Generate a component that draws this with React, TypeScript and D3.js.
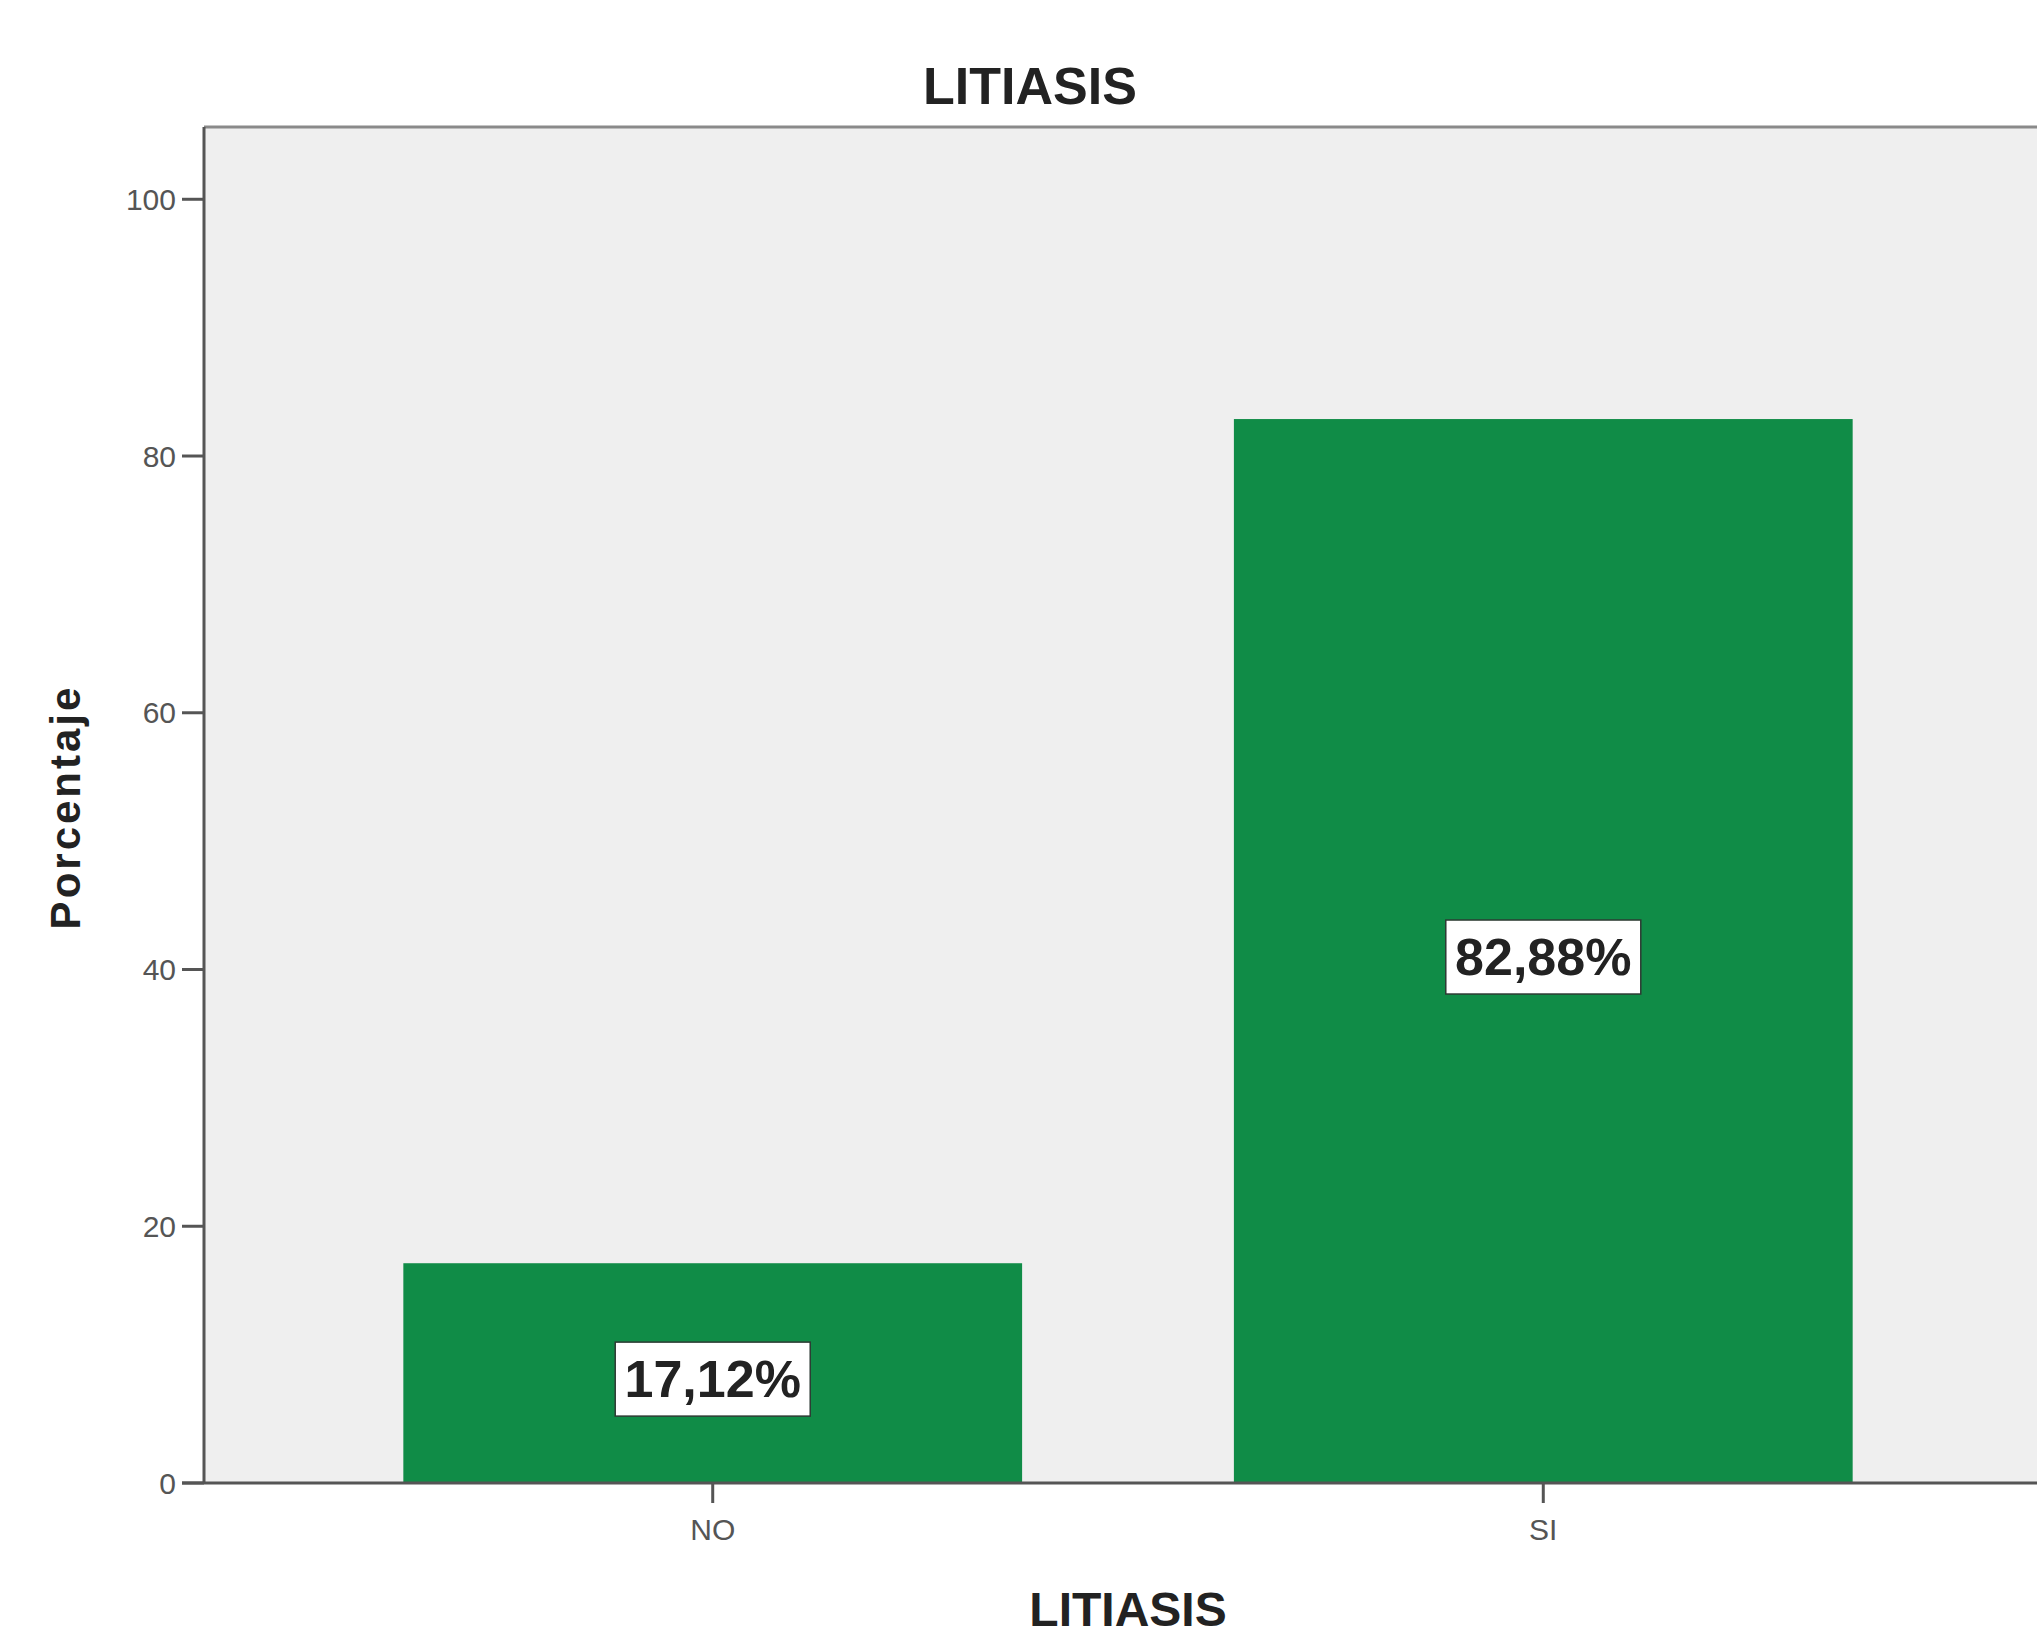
import React, { useEffect } from "react";
import * as d3 from "d3";

const categories: string[] = ["NO", "SI"];
const percentages: number[] = [17.12, 82.88];
const yTickValues: number[] = [0, 20, 40, 60, 80, 100];
const chartTitle = "LITIASIS";
const xAxisTitle = "LITIASIS";
const yAxisTitle = "Porcentaje";

const W = 2037;
const H = 1643;
const plotLeft = 204;
const plotRight = 2052;
const plotTop = 127;
const plotBottom = 1483;

const esLocale = d3.formatLocale({
  decimal: ",",
  thousands: ".",
  grouping: [3],
  currency: ["", "€"],
});
const fmt = esLocale.format(".2f");

export default function App() {
  useEffect(() => {
    document.body.style.margin = "0";
  }, []);

  const x = d3
    .scaleBand<string>()
    .domain(categories)
    .range([plotLeft, plotRight])
    .paddingInner(0.255)
    .paddingOuter(0.24);

  const y = d3.scaleLinear().domain([0, 105.63]).range([plotBottom, plotTop]);

  const font = "'Liberation Sans', Arial, Helvetica, sans-serif";
  const barColor = "#108c47";
  const axisColor = "#555555";

  return (
    <svg width={W} height={H} style={{ display: "block", background: "#ffffff" }}>
      {/* plot background */}
      <rect
        x={plotLeft}
        y={plotTop}
        width={plotRight - plotLeft}
        height={plotBottom - plotTop}
        fill="#efefef"
      />
      {/* top border */}
      <line x1={plotLeft} x2={plotRight} y1={plotTop} y2={plotTop} stroke="#8a8a8a" strokeWidth={3} />

      {/* bars */}
      {categories.map((c, i) => (
        <rect
          key={c}
          x={x(c)!}
          y={y(percentages[i])}
          width={x.bandwidth()}
          height={y(0) - y(percentages[i])}
          fill={barColor}
        />
      ))}

      {/* value labels */}
      {categories.map((c, i) => {
        const cx = x(c)! + x.bandwidth() / 2;
        const cy = (y(percentages[i]) + y(0)) / 2 + 6;
        const bw = 195;
        const bh = 74;
        return (
          <g key={"lbl" + c}>
            <rect
              x={cx - bw / 2}
              y={cy - bh / 2}
              width={bw}
              height={bh}
              fill="#ffffff"
              stroke="#2d3a33"
              strokeWidth={1.5}
            />
            <text
              x={cx}
              y={cy}
              textAnchor="middle"
              dominantBaseline="central"
              fontFamily={font}
              fontWeight="bold"
              fontSize={52}
              fill="#222222"
            >
              {fmt(percentages[i]) + "%"}
            </text>
          </g>
        );
      })}

      {/* y axis */}
      <line x1={plotLeft} x2={plotLeft} y1={plotTop} y2={plotBottom} stroke={axisColor} strokeWidth={3} />
      {yTickValues.map((t) => (
        <g key={"yt" + t}>
          <line x1={plotLeft - 22} x2={plotLeft} y1={y(t)} y2={y(t)} stroke={axisColor} strokeWidth={3} />
          <text
            x={plotLeft - 28}
            y={y(t)}
            textAnchor="end"
            dominantBaseline="central"
            fontFamily={font}
            fontSize={30}
            fill="#555555"
          >
            {t}
          </text>
        </g>
      ))}

      {/* x axis */}
      <line x1={plotLeft - 22} x2={plotRight} y1={plotBottom} y2={plotBottom} stroke={axisColor} strokeWidth={3} />
      {categories.map((c) => {
        const cx = x(c)! + x.bandwidth() / 2;
        return (
          <g key={"xt" + c}>
            <line x1={cx} x2={cx} y1={plotBottom} y2={plotBottom + 20} stroke={axisColor} strokeWidth={3} />
            <text
              x={cx}
              y={plotBottom + 46}
              textAnchor="middle"
              dominantBaseline="central"
              fontFamily={font}
              fontSize={30}
              fill="#555555"
            >
              {c}
            </text>
          </g>
        );
      })}

      {/* titles */}
      <text
        x={1030}
        y={104}
        textAnchor="middle"
        fontFamily={font}
        fontWeight="bold"
        fontSize={52}
        fill="#222222"
      >
        {chartTitle}
      </text>
      <text
        x={1128}
        y={1626}
        textAnchor="middle"
        fontFamily={font}
        fontWeight="bold"
        fontSize={48}
        fill="#222222"
      >
        {xAxisTitle}
      </text>
      <text
        transform={`translate(80, 807) rotate(-90)`}
        textAnchor="middle"
        fontFamily={font}
        fontWeight="bold"
        fontSize={42}
        letterSpacing={3}
        fill="#222222"
      >
        {yAxisTitle}
      </text>
    </svg>
  );
}
